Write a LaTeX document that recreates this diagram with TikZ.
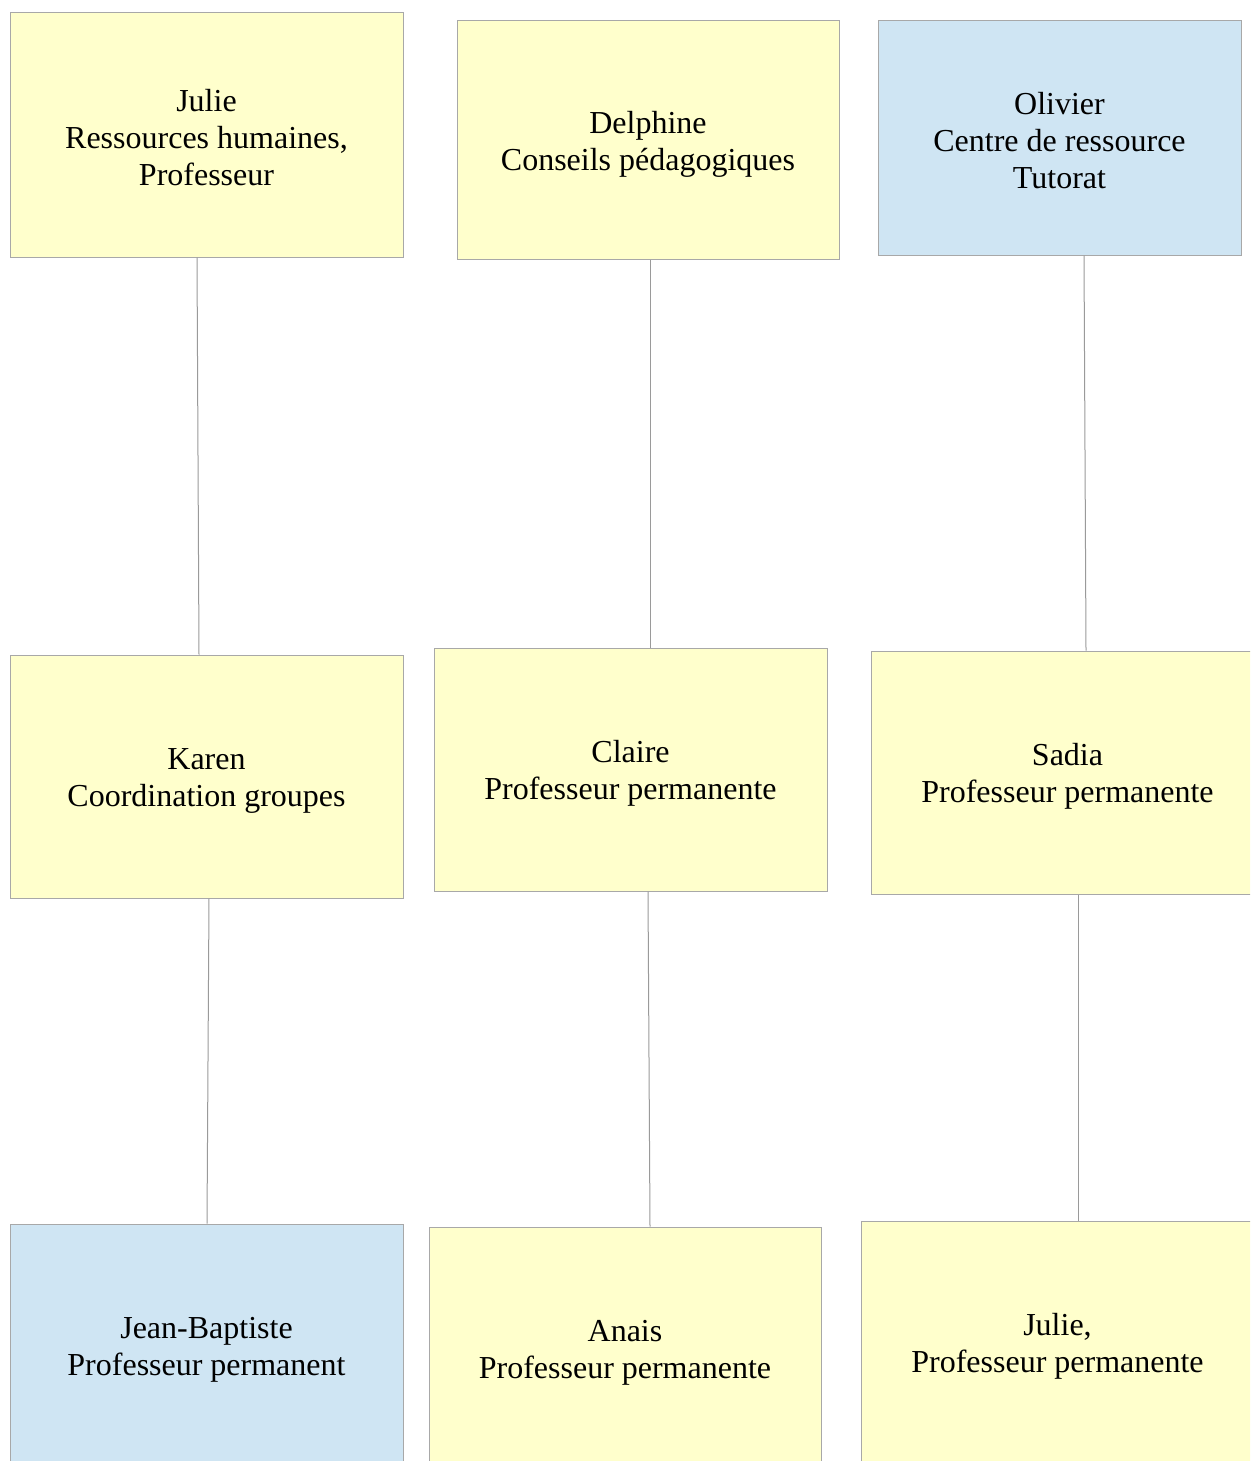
\documentclass[tikz,border=0pt]{standalone}
\usepackage{fontspec}
\setmainfont{Liberation Serif}
\usetikzlibrary{calc}
\definecolor{ylw}{HTML}{FFFFCC}
\definecolor{blu}{HTML}{CFE5F3}
\definecolor{brd}{HTML}{A8A8A8}
\definecolor{lnk}{HTML}{9A9A9A}
\tikzset{
  card/.style={draw=brd, line width=1pt, inner sep=0pt, minimum width=393pt, minimum height=243pt},
  ycard/.style={card, fill=ylw},
  bcard/.style={card, fill=blu},
  cardtext/.style={inner sep=0pt, align=center, font=\fontsize{32}{37}\selectfont},
  link/.style={draw=lnk, line width=1pt}
}
\begin{document}
\begin{tikzpicture}[x=1pt,y=-1pt]
\clip (0,0) rectangle (1250,1461);
\fill[white] (0,0) rectangle (1250,1461);
\node[ycard, minimum height=244pt] (A) at (206.5,135) {};
\node[ycard, minimum width=382pt, minimum height=238pt] (B) at (648,140) {};
\node[bcard, minimum width=363pt, minimum height=234pt] (C) at (1059.5,138) {};
\node[ycard] (D) at (206.5,776.5) {};
\node[ycard] (E) at (630.5,769.5) {};
\node[ycard] (F) at (1067.5,772.5) {};
\node[bcard] (G) at (206.5,1345.5) {};
\node[ycard, minimum width=392pt] (H) at (625,1348.5) {};
\node[ycard] (I) at (1057.5,1342.5) {};
\node[cardtext] (At) at ([yshift=-3pt]A.center) {Julie\\Ressources humaines,\\Professeur};
\node[cardtext] (Bt) at ([yshift=-4pt]B.center) {Delphine\\Conseils pédagogiques};
\node[cardtext] (Ct) at ([yshift=-3pt]C.center) {Olivier\\Centre de ressource\\Tutorat};
\node[cardtext] (Dt) at ([yshift=-4pt]D.center) {Karen\\Coordination groupes};
\node[cardtext] (Et) at ([yshift=-4pt]E.center) {Claire\\Professeur permanente};
\node[cardtext] (Ft) at ([yshift=-4pt]F.center) {Sadia\\Professeur permanente};
\node[cardtext] (Gt) at ([yshift=-4pt]G.center) {Jean-Baptiste\\Professeur permanent};
\node[cardtext] (Ht) at ([yshift=-4pt]H.center) {Anais\\Professeur permanente};
\node[cardtext] (It) at ([yshift=-4pt]I.center) {Julie,\\Professeur permanente};
\draw[link] ([xshift=-9.5pt]A.south) -- ([xshift=-7.5pt]D.north);
\draw[link] ([xshift=2pt]B.south) -- ([xshift=19.5pt]E.north);
\draw[link] ([xshift=24.5pt]C.south) -- ([xshift=18.5pt]F.north);
\draw[link] ([xshift=2.5pt]D.south) -- ([xshift=0.5pt]G.north);
\draw[link] ([xshift=17.5pt]E.south) -- ([xshift=25pt]H.north);
\draw[link] ([xshift=10.5pt]F.south) -- ([xshift=20.5pt]I.north);
\end{tikzpicture}
\end{document}
